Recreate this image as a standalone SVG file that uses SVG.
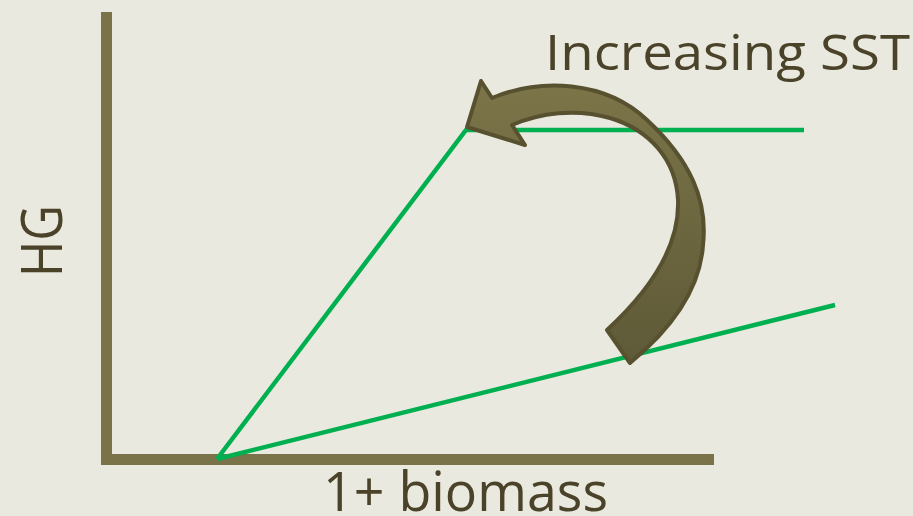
<svg xmlns="http://www.w3.org/2000/svg" width="913" height="516" viewBox="0 0 913 516">
  <defs>
    <style>
      .axis { stroke: #7A7248; stroke-width: 11; fill: none; }
      .curve { stroke: #00B050; stroke-width: 4.5; fill: none; stroke-linejoin: miter; }
      .label { font-family: "Open Sans", "Liberation Sans", sans-serif; fill: #4A4329; }
    </style>
    <linearGradient id="arrowGrad" x1="0" y1="0" x2="0" y2="1">
      <stop offset="0" stop-color="#7C7549"/>
      <stop offset="1" stop-color="#5E5937"/>
    </linearGradient>
  </defs>
  <rect width="913" height="516" fill="#E9E9DF"/>

  <g id="axes">
    <line class="axis" x1="106.5" y1="12" x2="106.5" y2="465"/>
    <line class="axis" x1="101" y1="459.5" x2="714" y2="459.5"/>
  </g>

  <g id="connectors">
    <polyline class="curve" points="217,459 466,130 804,130"/>
    <line class="curve" x1="217" y1="459" x2="835" y2="305"/>
  </g>

  <g id="sst-arrow">
    <path d="M492,98 C540,78 605,80 647,120 C690,160 708,200 703,245 C700,290 670,330 630,363 L607,330 C645,295 680,250 678,200 C676,160 650,130 610,118 C575,108 540,113 512,125 L525,145 L467,127 L481,81 Z" fill="url(#arrowGrad)" stroke="#57512F" stroke-width="4" stroke-linejoin="round"/>
  </g>

  <g id="label-sst">
    <text class="label" x="545" y="70" font-size="50" textLength="365" lengthAdjust="spacingAndGlyphs">Increasing SST</text>
  </g>
  <g id="label-x">
    <text class="label" x="323" y="511" font-size="55" textLength="285" lengthAdjust="spacingAndGlyphs">1+ biomass</text>
  </g>
  <g id="label-y">
    <text class="label" transform="translate(62,241) rotate(-90)" text-anchor="middle" font-size="57" textLength="72" lengthAdjust="spacingAndGlyphs">HG</text>
  </g>
</svg>
